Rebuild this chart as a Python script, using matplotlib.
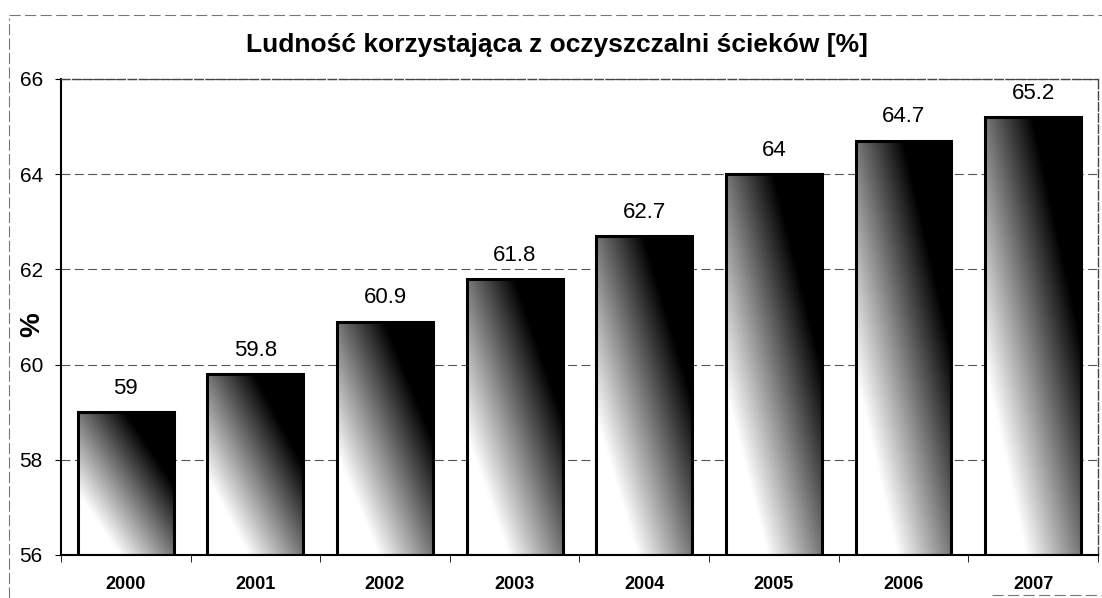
import numpy as np
import matplotlib
matplotlib.use("Agg")
import matplotlib.pyplot as plt
from matplotlib.lines import Line2D

plt.rcParams["font.family"] = ["Liberation Sans", "DejaVu Sans"]

years = ["2000", "2001", "2002", "2003", "2004", "2005", "2006", "2007"]
values = [59, 59.8, 60.9, 61.8, 62.7, 64, 64.7, 65.2]
labels = ["59", "59.8", "60.9", "61.8", "62.7", "64", "64.7", "65.2"]
title = "Ludność korzystająca z oczyszczalni ścieków [%]"

fig = plt.figure(figsize=(11.02, 5.98), dpi=100)
ax = fig.add_axes([0.0553, 0.072, 0.941, 0.796])

ymin, ymax = 56, 66
width = 0.74
u, v = np.meshgrid(np.linspace(0, 1, 120), np.linspace(0, 1, 200))
grad = np.clip((0.7 * u + 0.7 * v - 0.3) / 0.75, 0, 1)

for i, val in enumerate(values):
    x0, x1 = i - width / 2, i + width / 2
    bar = ax.bar(i, val - ymin, bottom=ymin, width=width, facecolor="none",
                 edgecolor="black", linewidth=2.2, zorder=3)[0]
    im = ax.imshow(grad, extent=(x0, x1, ymin, val), origin="lower",
                   cmap="gray_r", vmin=0, vmax=1, aspect="auto",
                   interpolation="bilinear", zorder=2)
    im.set_clip_path(bar)
    ax.text(i, val + 0.28, labels[i], ha="center", va="bottom", fontsize=16)

ax.set_xlim(-0.5, len(years) - 0.5)
ax.set_ylim(ymin, ymax)
ax.set_yticks([56, 58, 60, 62, 64, 66])
ax.set_xticks(range(len(years)))
ax.set_xticklabels(years, fontsize=13, fontweight="bold")
ax.set_xticks(np.arange(-0.5, len(years)), minor=True)
ax.tick_params(axis="x", which="major", length=0, pad=15)
ax.tick_params(axis="x", which="minor", length=5, direction="out")
ax.tick_params(axis="y", labelsize=15, length=4, pad=9)
ax.yaxis.grid(True, linestyle=(0, (8, 4)), color="#555555", linewidth=0.8)
ax.set_axisbelow(True)
for side in ["left", "bottom"]:
    ax.spines[side].set_linewidth(1.5)
for side in ["top", "right"]:
    ax.spines[side].set_linestyle((0, (6, 2)))
    ax.spines[side].set_linewidth(1.0)
    ax.spines[side].set_color("#444444")

fig.text(0.029, 0.457, "%", rotation=90, ha="center", va="center",
         fontsize=20, fontweight="bold")
fig.text(0.505, 0.925, title, ha="center", va="center", fontsize=19, fontweight="bold")

# outer chart frame (partially visible in the scan)
fig.add_artist(Line2D([0.008, 0.008], [0.0, 0.97], color="#777777", linewidth=0.8,
                      linestyle=(0, (10, 3))))
fig.add_artist(Line2D([0.008, 1.0], [0.975, 0.975], color="#777777", linewidth=0.8,
                      linestyle=(0, (10, 4))))
fig.add_artist(Line2D([0.9, 1.0], [0.005, 0.005], color="#777777", linewidth=0.8,
                      linestyle=(0, (10, 4))))

fig.savefig("out.png", dpi=100)
